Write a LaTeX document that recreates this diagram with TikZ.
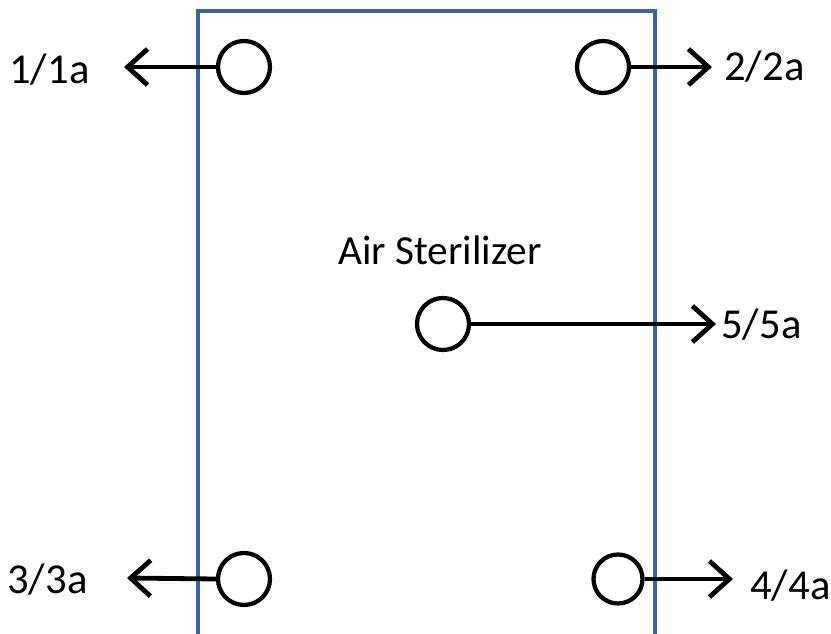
\documentclass[tikz,border=0pt]{standalone}
\usepackage{fontspec}
\setmainfont{Carlito}
\usetikzlibrary{arrows.meta}
\definecolor{boxblue}{RGB}{65,100,150}
\begin{document}
\begin{tikzpicture}[x=0.75pt,y=-0.75pt,
  port/.style={draw=black,line width=3.2pt,circle,fill=white,minimum size=52*0.75pt,inner sep=0pt},
  arr/.style={draw=black,line width=3.6pt,-{Straight Barb[length=15pt,width=27pt,line width=3.6pt]}},
  lbl/.style={font=\fontsize{32}{36}\selectfont,inner sep=0pt},
  box/.style={draw=boxblue,line width=3pt}]
\useasboundingbox (0,0) rectangle (831,634);
\clip (0,0) rectangle (831,634);
\draw[box] (198,660) -- (198,11) -- (655,11) -- (655,660);
\node[lbl,font=\fontsize{31}{36}\selectfont] (title) at (440,250) {Air Sterilizer};
\coordinate (t1) at (124,67);
\coordinate (t2) at (712,67);
\coordinate (t5) at (716,324);
\coordinate (t3) at (127,578);
\coordinate (t4) at (733,579);
\node[port] (c1) at (244,67) {};
\node[port] (c2) at (603,67) {};
\node[port] (c5) at (443,324) {};
\node[port] (c3) at (244,579) {};
\node[port,minimum size=49*0.75pt] (c4) at (618,579) {};
\draw[arr] (c1.west) -- (t1);
\draw[arr] (c2.east) -- (t2);
\draw[arr] (c5.east) -- (t5);
\draw[arr] (c3.west) -- (t3);
\draw[arr] (c4.east) -- (t4);
\node[lbl,anchor=west] (l1) at (9,70) {1/1a};
\node[lbl,anchor=west] (l2) at (724,67) {2/2a};
\node[lbl,anchor=west] (l5) at (721,325) {5/5a};
\node[lbl,anchor=west] (l3) at (7,580) {3/3a};
\node[lbl,anchor=west] (l4) at (750,586) {4/4a};
\end{tikzpicture}
\end{document}
